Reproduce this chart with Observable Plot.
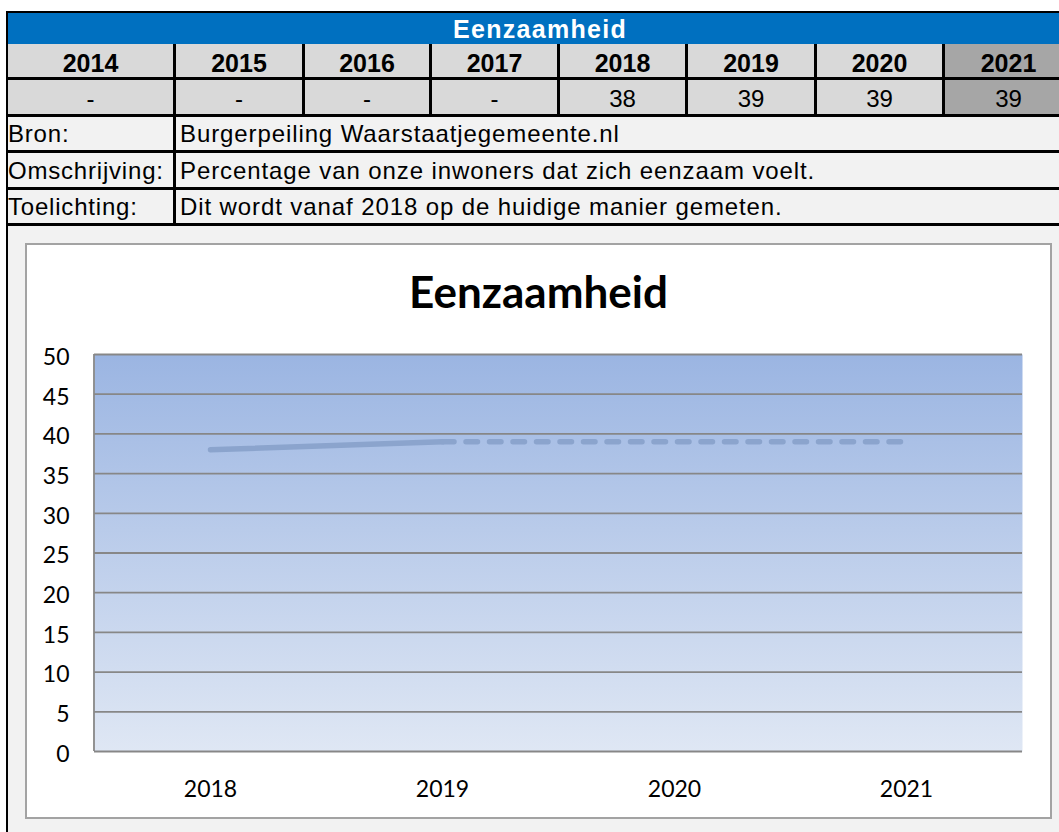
<!DOCTYPE html>
<html><head><meta charset="utf-8">
<script src="https://cdn.jsdelivr.net/npm/d3@7"></script>
<script src="https://cdn.jsdelivr.net/npm/@observablehq/plot@0.6"></script>
<style>
html,body{margin:0;padding:0;background:#fff;overflow:hidden;width:1059px;height:832px;}
#page{position:relative;width:1059px;height:832px;overflow:hidden;}
.abs{position:absolute;box-sizing:border-box;}
.txt{font-family:"Liberation Sans",Arial,sans-serif;color:#000;display:flex;align-items:center;white-space:nowrap;}
#charttitle{font-family:Lato,sans-serif;font-weight:bold;font-size:44px;line-height:44px;text-align:center;color:#000;}
</style></head><body><div id="page"></div>
<script>
const tableTitle = "Eenzaamheid";
const tableYears = ["2014","2015","2016","2017","2018","2019","2020","2021"];
const tableValues = ["-","-","-","-","38","39","39","39"];
const infoLabels = ["Bron:","Omschrijving:","Toelichting:"];
const infoTexts = ["Burgerpeiling Waarstaatjegemeente.nl","Percentage van onze inwoners dat zich eenzaam voelt.","Dit wordt vanaf 2018 op de huidige manier gemeten."];
const chartTitle = "Eenzaamheid";
const chartYears = ["2018","2019","2020","2021"];
const chartValues = [38,39,39,39];
const yTicks = [0,5,10,15,20,25,30,35,40,45,50];

const page = document.getElementById("page");
function box(left, top, width, height, bg, cls) {
  const d = document.createElement("div");
  d.className = "abs" + (cls ? " " + cls : "");
  Object.assign(d.style, {left: left + "px", top: top + "px", width: width + "px", height: height + "px", background: bg});
  page.appendChild(d);
  return d;
}
// table frame
box(6, 11, 1066, 215, "#000");
box(6, 11, 2, 821, "#000");
box(8, 226, 1064, 606, "#f2f2f2");
// title bar
const tb = box(8, 13, 1064, 31, "#0070c0", "txt");
Object.assign(tb.style, {justifyContent: "center", color: "#fff", fontWeight: "bold", fontSize: "25px", letterSpacing: "1.3px", paddingTop: "1px"});
tb.textContent = tableTitle;
const colL = [8,176,305,432,560,688,817,945];
const colR = [173,302,429,557,685,814,942,1072];
tableYears.forEach((yr, i) => {
  const bg = i === tableYears.length - 1 ? "#a6a6a6" : "#d9d9d9";
  const c1 = box(colL[i], 44, colR[i] - colL[i], 33, bg, "txt");
  Object.assign(c1.style, {justifyContent: "center", fontWeight: "bold", fontSize: "25px", paddingTop: "6px"});
  c1.textContent = yr;
  const c2 = box(colL[i], 80, colR[i] - colL[i], 34, bg, "txt");
  Object.assign(c2.style, {justifyContent: "center", fontSize: "24px", paddingTop: "3px"});
  c2.textContent = tableValues[i];
});
const infoTop = [117,153,190], infoH = [33,34,33];
infoLabels.forEach((lab, i) => {
  const a = box(8, infoTop[i], 165, infoH[i], "#f2f2f2", "txt");
  Object.assign(a.style, {fontSize: "24px", letterSpacing: "0.8px", paddingLeft: "0px", paddingTop: "1px", overflow: "hidden"});
  a.textContent = lab;
  const b = box(176, infoTop[i], 896, infoH[i], "#f2f2f2", "txt");
  Object.assign(b.style, {fontSize: "24px", letterSpacing: "0.9px", paddingLeft: "4px", paddingTop: "1px"});
  b.textContent = infoTexts[i];
});
// chart box
const cb = box(25, 243, 1027, 576, "#fff");
cb.style.border = "2px solid #a3a3a3";
const t = document.createElement("div");
t.id = "charttitle";
t.className = "abs";
Object.assign(t.style, {left: "0px", top: "24px", width: "1023px"});
t.textContent = chartTitle;
cb.appendChild(t);

const data = chartYears.map((year, i) => ({year, value: chartValues[i]}));
const solid = data.slice(0, 2);
const dashed = data.slice(1);
const gradient = () => {
  const defs = d3.create("svg:defs");
  const lg = defs.append("linearGradient").attr("id", "plotbg").attr("x1", 0).attr("y1", 0).attr("x2", 0).attr("y2", 1);
  lg.append("stop").attr("offset", "0%").attr("stop-color", "#9bb5e2");
  lg.append("stop").attr("offset", "100%").attr("stop-color", "#dfe7f4");
  return defs.node();
};
const leftEdge = (index, scales, values, dims) => {
  return d3.create("svg:line")
    .attr("x1", dims.marginLeft).attr("x2", dims.marginLeft)
    .attr("y1", dims.marginTop).attr("y2", dims.height - dims.marginBottom)
    .attr("stroke", "#878787").attr("stroke-width", 1.8).node();
};
const chart = Plot.plot({
  width: 1023, height: 487,
  marginLeft: 67, marginRight: 28, marginTop: 24, marginBottom: 66,
  style: {fontFamily: "Lato, sans-serif", fontSize: "22px", color: "#000", background: "transparent", overflow: "visible"},
  x: {type: "point", domain: chartYears, padding: 0.5, label: null},
  y: {domain: [0, 50], label: null},
  marks: [
    gradient,
    Plot.frame({fill: "url(#plotbg)", stroke: "none"}),
    Plot.ruleY(yTicks, {stroke: "#878787", strokeWidth: 1.8}),
    leftEdge,
    Plot.line(solid, {x: "year", y: "value", stroke: "#8ba4cd", strokeWidth: 5.5, strokeLinecap: "round"}),
    Plot.line(dashed, {x: "year", y: "value", stroke: "#8ba4cd", strokeWidth: 5.5, strokeLinecap: "round", strokeDasharray: "11.5,12"}),
    Plot.axisY({ticks: yTicks, tickSize: 0, tickPadding: 25, fontSize: 23, dy: 3, label: null}),
    Plot.axisX({tickSize: 0, tickPadding: 29, fontSize: 23, label: null})
  ]
});
chart.style.position = "absolute";
chart.style.left = "0px";
chart.style.top = "85px";
cb.appendChild(chart);
</script></body></html>
